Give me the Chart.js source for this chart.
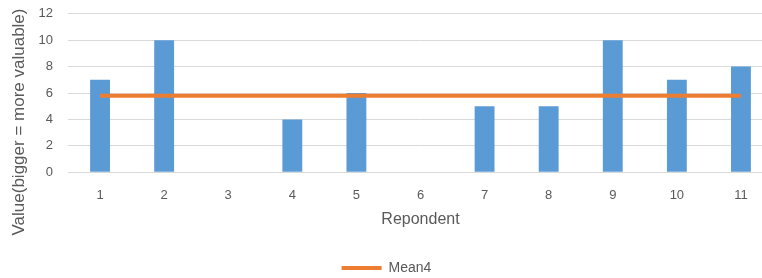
<!DOCTYPE html>
<html>
<head>
<meta charset="utf-8">
<script src="https://cdn.jsdelivr.net/npm/chart.js@4"></script>
<style>
  html, body { margin: 0; padding: 0; overflow: hidden; background: #fff; }
  #wrap { width: 773px; height: 278px; }
</style>
</head>
<body>
<div id="wrap"><canvas id="chart"></canvas></div>
<script>
const respondents = ['1', '2', '3', '4', '5', '6', '7', '8', '9', '10', '11'];
const values = [7, 10, 0, 4, 6, 0, 5, 5, 10, 7, 8];
const mean4 = [5.8, 5.8, 5.8, 5.8, 5.8, 5.8, 5.8, 5.8, 5.8, 5.8, 5.8];
const yTitle = 'Value(bigger = more valuable)';

Chart.defaults.font.family = '"Liberation Sans", sans-serif';
Chart.defaults.color = '#595959';

// the y title sits lower than the plot centre (like Excel does when it's too long)
const yTitlePlugin = {
    id: 'yTitle',
    afterDraw(chart) {
        const c = chart.ctx;
        c.save();
        c.translate(19, 122);
        c.rotate(-Math.PI / 2);
        c.font = '17px "Liberation Sans", sans-serif';
        c.fillStyle = '#595959';
        c.textAlign = 'center';
        c.textBaseline = 'middle';
        c.fillText(yTitle, 0, 0);
        c.restore();
    }
};

const ctx = document.getElementById('chart').getContext('2d');
new Chart(ctx, {
    type: 'bar',
    data: {
        labels: respondents,
        datasets: [
            {
                type: 'line',
                label: 'Mean4',
                data: mean4,
                borderColor: '#ED7D31',
                backgroundColor: '#ED7D31',
                borderWidth: 4,
                pointRadius: 0,
                fill: false,
                order: 0
            },
            {
                label: 'Value',
                data: values,
                backgroundColor: '#5B9BD5',
                barPercentage: 0.31,
                categoryPercentage: 1,
                order: 1
            }
        ]
    },
    plugins: [yTitlePlugin],
    options: {
        responsive: true,
        maintainAspectRatio: false,
        animation: false,
        layout: { padding: { top: 0, left: 0, right: 0, bottom: -7 } },
        plugins: {
            tooltip: { enabled: false },
            legend: {
                position: 'bottom',
                labels: {
                    usePointStyle: true,
                    pointStyle: 'line',
                    pointStyleWidth: 40,
                    padding: 3,
                    font: { size: 14 },
                    filter: item => item.text === 'Mean4'
                }
            }
        },
        scales: {
            x: {
                grid: { display: false },
                border: { color: '#D9D9D9' },
                ticks: { font: { size: 13 }, padding: 7 },
                title: { display: true, text: 'Repondent', font: { size: 16 }, padding: { top: 0, bottom: 29 } }
            },
            y: {
                min: 0,
                max: 12,
                ticks: { stepSize: 2, font: { size: 13 }, padding: 6 },
                grid: { color: '#D9D9D9', tickColor: 'rgba(0,0,0,0)', tickLength: 9 },
                border: { display: false },
                afterFit: scale => { scale.width = 68; }
            }
        }
    }
});
</script>
</body>
</html>
